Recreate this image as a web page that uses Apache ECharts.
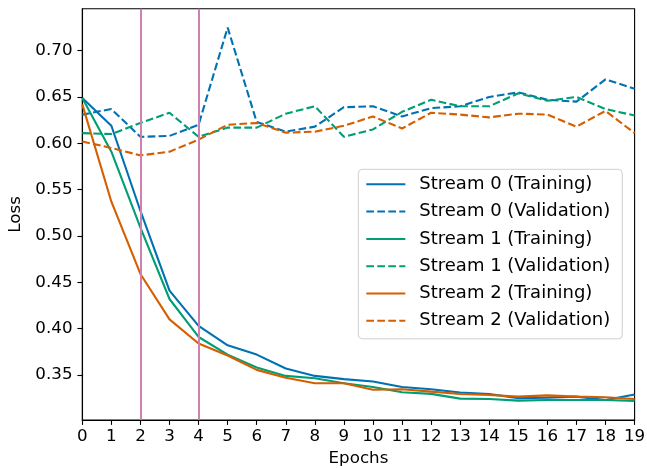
<!DOCTYPE html>
<html>
<head>
<meta charset="utf-8">
<script src="https://cdn.jsdelivr.net/npm/echarts@6/dist/echarts.min.js"></script>
<style>
html,body{margin:0;padding:0;background:#fff;}
#chart{width:647px;height:468px;}
</style>
</head>
<body>
<div id="chart"></div>
<script>
var epochs = [0,1,2,3,4,5,6,7,8,9,10,11,12,13,14,15,16,17,18,19];
var yTicks = [0.35,0.40,0.45,0.50,0.55,0.60,0.65,0.70];
var phaseLines = [2, 4];

var s0Train = [0.649,0.619,0.527,0.441,0.403,0.382,0.372,0.357,0.349,0.3455,0.343,0.337,0.3346,0.331,0.3295,0.325,0.3255,0.3266,0.323,0.329];
var s0Val   = [0.631,0.637,0.607,0.608,0.620,0.725,0.623,0.6126,0.618,0.639,0.640,0.629,0.638,0.640,0.650,0.655,0.647,0.645,0.669,0.659];
var s1Train = [0.649,0.591,0.509,0.432,0.391,0.372,0.358,0.349,0.3465,0.341,0.337,0.3313,0.3296,0.3245,0.324,0.3223,0.323,0.323,0.323,0.322];
var s1Val   = [0.611,0.610,0.622,0.633,0.607,0.617,0.617,0.632,0.640,0.607,0.615,0.634,0.647,0.640,0.640,0.654,0.646,0.650,0.637,0.630];
var s2Train = [0.642,0.537,0.459,0.410,0.384,0.371,0.3555,0.347,0.341,0.341,0.334,0.3346,0.332,0.3295,0.3284,0.3266,0.328,0.3266,0.326,0.324];
var s2Val   = [0.602,0.595,0.587,0.591,0.604,0.620,0.622,0.6115,0.6126,0.619,0.629,0.616,0.633,0.631,0.628,0.632,0.631,0.618,0.635,0.611];

var names = ['Stream 0 (Training)','Stream 0 (Validation)','Stream 1 (Training)','Stream 1 (Validation)','Stream 2 (Training)','Stream 2 (Validation)'];
var colors = ['#0072B2','#0072B2','#009E73','#009E73','#D55E00','#D55E00'];
var dataSets = [s0Train,s0Val,s1Train,s1Val,s2Train,s2Val];

function pairs(arr){ return epochs.map(function(e,i){ return [e, arr[i]]; }); }

var FONT = 'DejaVu Sans';
var series = dataSets.map(function(d, i){
  var dashed = (i % 2 === 1);
  return {
    name: names[i],
    type: 'line',
    data: pairs(d),
    symbol: 'none',
    showSymbol: false,
    smooth: false,
    animation: false,
    z: 3,
    color: colors[i],
    lineStyle: { color: colors[i], width: 2.1, type: dashed ? [7.7, 3.3] : 'solid' },
    emphasis: { disabled: true }
  };
});
series.push({
  name: 'phases',
  type: 'line',
  data: [],
  markLine: {
    silent: true,
    symbol: ['none','none'],
    label: { show: false },
    animation: false,
    lineStyle: { color: '#D07FB0', width: 2, type: 'solid' },
    data: phaseLines.map(function(v){ return { xAxis: v }; })
  },
  z: 2
});

var chart = echarts.init(document.getElementById('chart'), null, {renderer: 'canvas'});
chart.setOption({
  animation: false,
  backgroundColor: '#fff',
  textStyle: { fontFamily: FONT },
  grid: { left: 82.3, right: 12.4, top: 8.7, bottom: 48, show: true, borderColor: '#000', borderWidth: 1.1,
          containLabel: false, outerBoundsMode: 'none' },
  xAxis: {
    type: 'value', min: 0, max: 19, interval: 1,
    name: 'Epochs', nameLocation: 'middle', nameGap: 30,
    nameTextStyle: { fontFamily: FONT, fontSize: 16.7, color: '#000' },
    axisLine: { show: true, onZero: false, lineStyle: { color: '#000', width: 1.1 } },
    axisTick: { show: true, inside: false, length: 4.9, lineStyle: { color: '#000', width: 1.1 } },
    axisLabel: { fontFamily: FONT, fontSize: 16.7, color: '#000', margin: 8.5 },
    splitLine: { show: false }
  },
  yAxis: {
    type: 'value', min: 0.3014, max: 0.7453,
    name: 'Loss', nameLocation: 'middle', nameGap: 54,
    nameTextStyle: { fontFamily: FONT, fontSize: 16.7, color: '#000' },
    axisLine: { show: true, lineStyle: { color: '#000', width: 1.1 } },
    axisTick: { show: true, inside: false, length: 4.9, customValues: yTicks, lineStyle: { color: '#000', width: 1.1 } },
    axisLabel: { fontFamily: FONT, fontSize: 16.7, color: '#000', margin: 9.8, customValues: yTicks,
      formatter: function(v){ return v.toFixed(2); } },
    splitLine: { show: false }
  },
  legend: {
    data: names,
    orient: 'vertical',
    left: 358.3, top: 169.3,
    padding: [6, 12, 9, 7],
    itemWidth: 39, itemHeight: 14, itemGap: 9.3,
    backgroundColor: 'rgba(255,255,255,0.8)',
    borderColor: '#d0d0d0', borderWidth: 1, borderRadius: 4,
    selectedMode: false,
    itemStyle: { opacity: 0 },
    textStyle: { fontFamily: FONT, fontSize: 18, color: '#000', lineHeight: 18, padding: [0,0,0,9] }
  },
  series: series
});
</script>
</body>
</html>
